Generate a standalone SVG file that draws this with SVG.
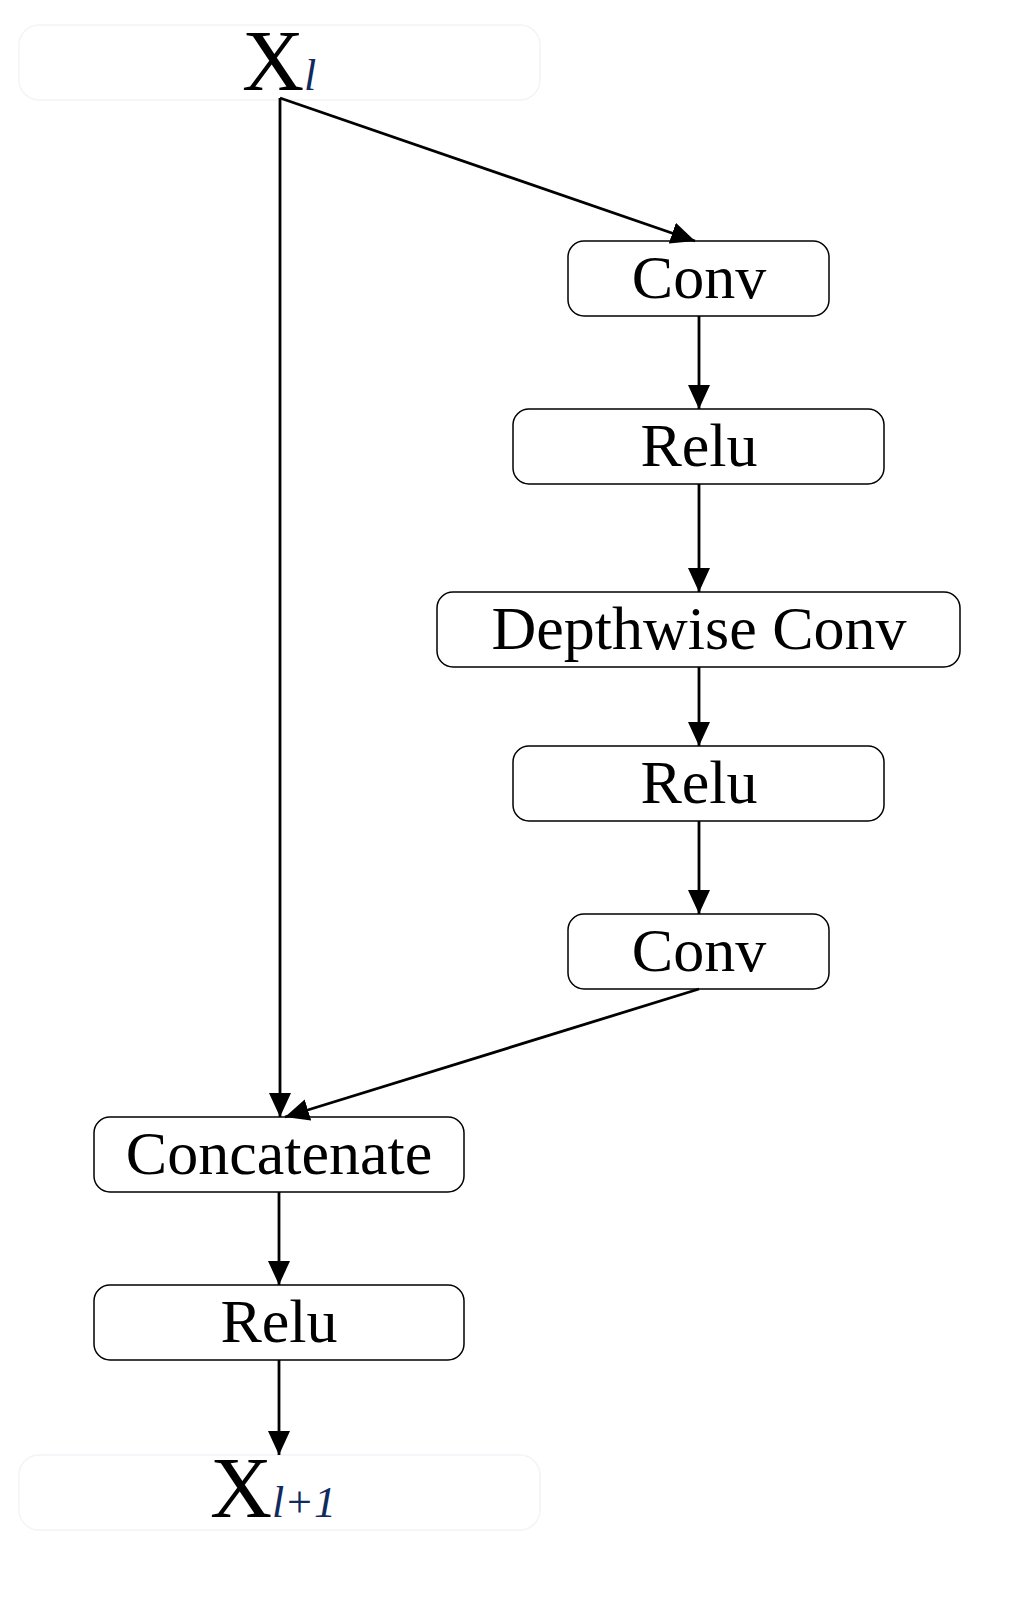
<svg xmlns="http://www.w3.org/2000/svg" width="1023" height="1617" viewBox="0 0 1023 1617">
<style>
.n{fill:#fff;stroke:#000;stroke-width:1.5}
.f{fill:#fff;stroke:#f2f4f7;stroke-width:1.5}
.t{font-family:"Liberation Serif",serif;font-size:62px;text-anchor:middle;fill:#000}
.c{stroke:#000;stroke-width:2.8;fill:none;marker-end:url(#a)}
</style>
<defs><marker id="a" markerWidth="24" markerHeight="22" refX="24" refY="11" orient="auto" markerUnits="userSpaceOnUse"><path d="M0,0 L24,11 L0,22 Z" fill="#000"/></marker></defs>
<rect width="1023" height="1617" fill="#fff"/>
<g id="xin"><rect class="f" x="19" y="25" width="521" height="75" rx="20"/><text font-family="Liberation Serif,serif" font-size="86" x="242" y="90">X<tspan font-size="44" font-style="italic" fill="#102a60">l</tspan></text></g>
<g id="conv1"><rect class="n" x="568" y="241" width="261" height="75" rx="16"/><text class="t" x="699" y="298">Conv</text></g>
<g id="relu1"><rect class="n" x="513" y="409" width="371" height="75" rx="16"/><text class="t" x="699" y="466">Relu</text></g>
<g id="dw"><rect class="n" x="437" y="592" width="523" height="75" rx="16"/><text class="t" x="699" y="649">Depthwise Conv</text></g>
<g id="relu2"><rect class="n" x="513" y="746" width="371" height="75" rx="16"/><text class="t" x="699" y="803">Relu</text></g>
<g id="conv2"><rect class="n" x="568" y="914" width="261" height="75" rx="16"/><text class="t" x="699" y="971">Conv</text></g>
<g id="concat"><rect class="n" x="94" y="1117" width="370" height="75" rx="16"/><text class="t" x="279" y="1174">Concatenate</text></g>
<g id="relu3"><rect class="n" x="94" y="1285" width="370" height="75" rx="16"/><text class="t" x="279" y="1342">Relu</text></g>
<g id="xout"><rect class="f" x="19" y="1455" width="521" height="75" rx="20"/><text font-family="Liberation Serif,serif" font-size="86" x="210" y="1517">X<tspan font-size="44" font-style="italic" fill="#102a60">l+1</tspan></text></g>
<g id="connectors">
<path class="c" d="M280,98 L280,1117"/>
<path class="c" d="M280,98 L695,241"/>
<path class="c" d="M699,316 L699,409"/>
<path class="c" d="M699,484 L699,592"/>
<path class="c" d="M699,667 L699,746"/>
<path class="c" d="M699,821 L699,914"/>
<path class="c" d="M699,989 L285,1117"/>
<path class="c" d="M279,1192 L279,1285"/>
<path class="c" d="M279,1360 L279,1455"/>
</g>
</svg>
